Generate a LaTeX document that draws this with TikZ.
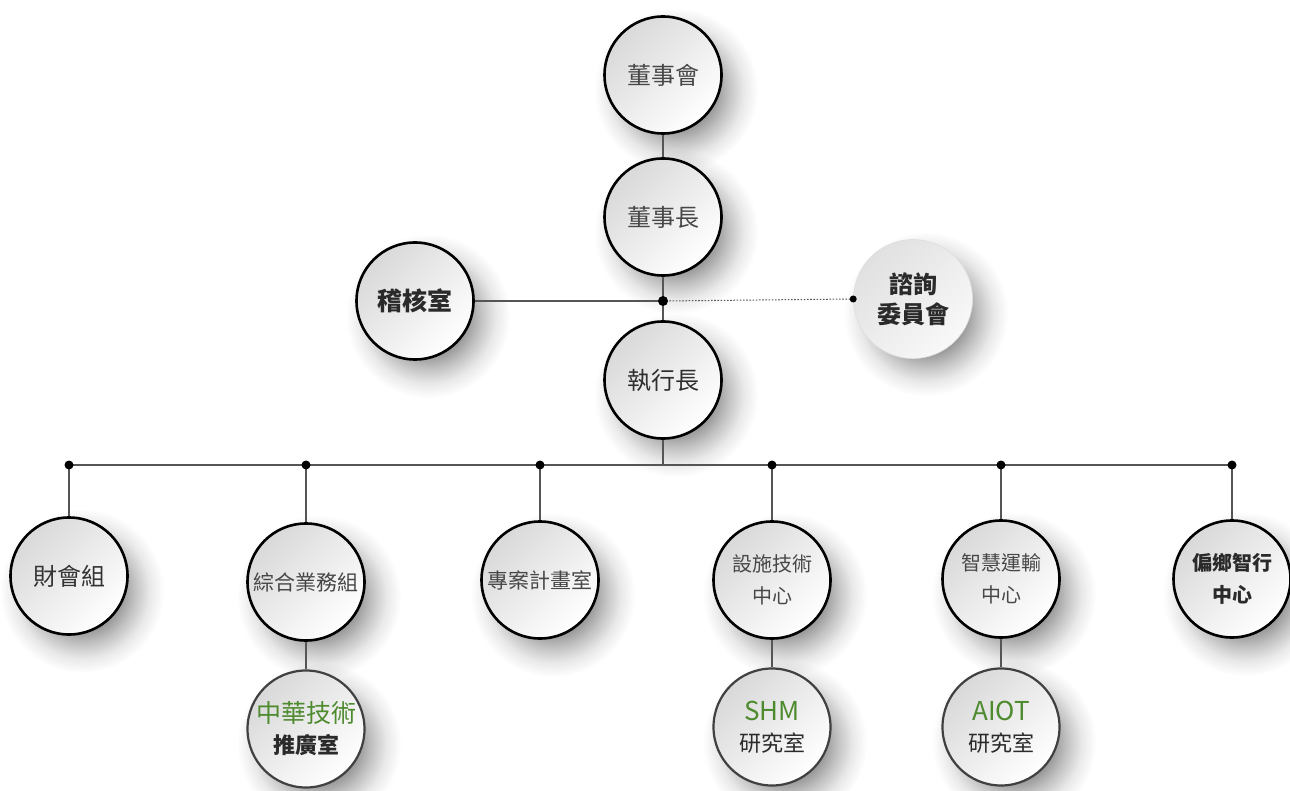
\documentclass[tikz,border=0pt]{standalone}
\usepackage{fontspec}
\newfontfamily\cjk{Noto Sans CJK TC}
\usetikzlibrary{fadings}
\definecolor{grn}{HTML}{4E8A2E}
\definecolor{ln}{HTML}{555555}
\definecolor{txtreg}{HTML}{474747}
\definecolor{txtbold}{HTML}{2A2A2A}
\pgfdeclarelayer{bg}
\pgfdeclarelayer{shadowlayer}
\pgfsetlayers{bg,shadowlayer,main}
\pgfdeclareradialshading{softshade}{\pgfpointorigin}{color(0bp)=(white); color(12bp)=(white); color(16bp)=(white!60!black); color(20.5bp)=(white!22!black); color(25bp)=(black); color(50bp)=(black)}
\pgfdeclarefading{softshadow}{\pgfuseshading{softshade}}
\tikzset{
  orgbase/.style={circle, inner sep=0pt, align=center,
    top color=gray!30, bottom color=white, shading angle=45},
  org/.style={orgbase, minimum size=117pt, draw=black, line width=2.6pt,
    text=txtreg, font=\cjk\fontsize{24}{30}\selectfont},
  orgsmall/.style={org, font=\cjk\fontsize{21}{30}\selectfont},
  orgtwo/.style={org, font=\cjk\fontsize{20}{32}\selectfont},
  orgbold/.style={org, text=txtbold, font=\cjk\bfseries\fontsize{24}{30}\selectfont},
  orgadv/.style={orgbase, minimum size=119pt, draw=gray!25, line width=0.6pt,
    top color=gray!24, bottom color=gray!5, shading angle=45,
    text=txtbold, font=\cjk\bfseries\fontsize{24}{30}\selectfont},
  orgsub/.style={orgbase, minimum size=117pt, draw=black!75, line width=2.2pt,
    text=txtbold, font=\cjk\fontsize{22}{31}\selectfont},
  softshadowfill/.style={fill=black, opacity=0.4, path fading=softshadow},
  conn/.style={draw=ln, line width=1.1pt},
  dotconn/.style={draw=ln, line width=1pt, dash pattern=on 1.6pt off 1.6pt},
  jdot/.style={fill=black},
}
\begin{document}
\begin{tikzpicture}[x=1pt,y=-1pt]
\begin{pgfonlayer}{bg}
\fill[white] (0,0) rectangle (1290,791);
\end{pgfonlayer}
\useasboundingbox (0,0) rectangle (1290,791);

% nodes
\node[org] (board) at (663,75) {董事會};
\node[org] (chair) at (663,217) {董事長};
\node[orgbold, font=\cjk\bfseries\fontsize{25}{30}\selectfont] (audit) at (415,301) {稽核室};
\node[orgadv] (adv) at (913,299) {諮詢\\委員會};
\node[org, text=black!82] (ceo) at (663,380) {執行長};

\node[org, text=black!80] (fin) at (69,576) {財會組};
\node[orgsmall] (gen) at (306,582) {綜合業務組};
\node[orgsmall] (proj) at (540,580) {專案計畫室};
\node[orgtwo] (fac) at (772,580) {設施技術\\中心};
\node[orgtwo] (its) at (1001,579) {智慧運輸\\中心};
\node[orgtwo, text=txtbold, font=\cjk\bfseries\fontsize{20}{32}\selectfont] (rural) at (1232,579) {偏鄉智行\\中心};

\node[orgsub] (cht) at (306,729) {{\fontsize{25}{31}\selectfont\color{grn}中華技術}\\{\bfseries 推廣室}};
\node[orgsub] (shm) at (772,727) {{\fontsize{26}{32}\selectfont\color{grn}SHM}\\研究室};
\node[orgsub] (aiot) at (1001,727) {{\fontsize{26}{32}\selectfont\color{grn}AIOT}\\研究室};

% soft drop shadows
\begin{pgfonlayer}{shadowlayer}
\foreach \n in {board,chair,audit,adv,ceo,fin,gen,proj,fac,its,rural,cht,shm,aiot}
  \fill[softshadowfill] ([shift={(13,15)}]\n.center) circle (82pt);
\end{pgfonlayer}

% junction coordinates
\coordinate (jct) at (663,301);
\coordinate (bus) at (663,465);
\coordinate (d1) at (69,465);
\coordinate (d2) at (306,465);
\coordinate (d3) at (540,465);
\coordinate (d4) at (772,465);
\coordinate (d5) at (1001,465);
\coordinate (d6) at (1232,465);

% connectors
\draw[conn] (board.south) -- (chair.north);
\draw[conn] (chair.south) -- (jct);
\draw[conn] (jct) -- (ceo.north);
\draw[conn] (audit.east) -- (jct);
\draw[dotconn] (jct) -- (adv.west);
\draw[conn] (ceo.south) -- (bus);
\draw[conn] (d1) -- (d6);
\draw[conn] (d1) -- (fin.north);
\draw[conn] (d2) -- (gen.north);
\draw[conn] (d3) -- (proj.north);
\draw[conn] (d4) -- (fac.north);
\draw[conn] (d5) -- (its.north);
\draw[conn] (d6) -- (rural.north);
\draw[conn] (gen.south) -- (cht.north);
\draw[conn] (fac.south) -- (shm.north);
\draw[conn] (its.south) -- (aiot.north);

% dots
\fill[jdot] (jct) circle (5pt);
\fill[jdot] (adv.west) circle (3.5pt);
\foreach \d in {d1,d2,d3,d4,d5,d6} \fill[jdot] (\d) circle (4.5pt);
\end{tikzpicture}
\end{document}
